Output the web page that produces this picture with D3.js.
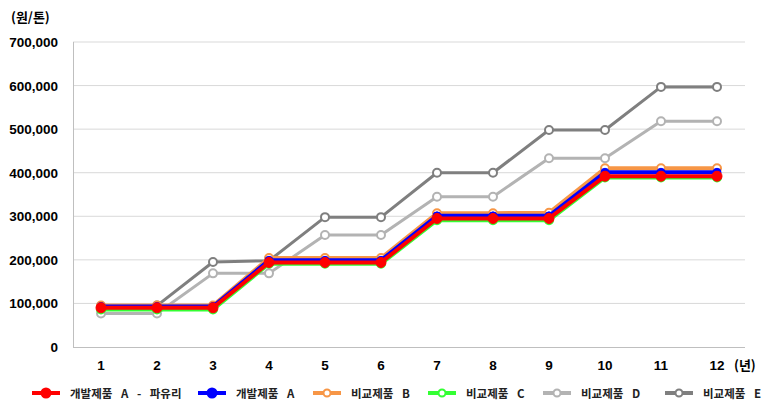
<!DOCTYPE html>
<html><head><meta charset="utf-8">
<script src="https://cdn.jsdelivr.net/npm/d3@7"></script>
<style>body{margin:0;background:#fff}svg{display:block}</style>
</head><body><svg id="c" width="768" height="413"></svg>
<script>
const years = [1,2,3,4,5,6,7,8,9,10,11,12];
const yTicks = [0,100000,200000,300000,400000,500000,600000,700000];
const seriesNames = ["개발제품 A - 파유리","개발제품 A","비교제품 B","비교제품 C","비교제품 D","비교제품 E"];
const valsE = [93000,95000,195000,198000,298000,298000,400000,400000,498000,498000,597000,597000];
const valsD = [77000,77000,169000,169000,257000,257000,345000,345000,433000,433000,518000,518000];
const valsB = [95000,95000,95000,204000,204000,204000,307000,307000,308000,410000,410000,410000];
const valsC = [86000,86000,86000,191000,191000,191000,291000,291000,291000,389000,389000,389000];
const valsA = [93000,93000,93000,199000,199000,199000,301000,301000,301000,401000,401000,401000];
const valsR = [90000,90000,90000,194000,194000,194000,295000,295000,295000,392000,392000,392000];
const colors = ["#ff0000","#0000ff","#f79646","#33ff33","#b3b3b3","#7f7f7f"];

const svg = d3.select("#c");
const x = d3.scalePoint().domain(years).range([73,745]).padding(0.5);
const y = d3.scaleLinear().domain([0,700000]).range([347,42]);

svg.append("g").selectAll("line").data(yTicks.slice(1)).join("line")
  .attr("x1",73).attr("x2",745).attr("y1",d=>y(d)).attr("y2",d=>y(d))
  .attr("stroke","#d9d9d9").attr("stroke-width",1);
svg.append("line").attr("x1",73.5).attr("x2",73.5).attr("y1",42).attr("y2",347).attr("stroke","#bfbfbf");
svg.append("line").attr("x1",73).attr("x2",745).attr("y1",347.5).attr("y2",347.5).attr("stroke","#bfbfbf");

const font = "Arial, 'Liberation Sans', 'Noto Sans CJK KR', sans-serif";
svg.append("g").selectAll("text").data(yTicks).join("text")
  .attr("x",58).attr("y",d=>y(d)+5).attr("text-anchor","end")
  .attr("font-family",font).attr("font-size",13.5).attr("font-weight","bold").attr("fill","#000")
  .text(d=>d3.format(",")(d));
svg.append("g").selectAll("text").data(years).join("text")
  .attr("x",d=>x(d)).attr("y",370).attr("text-anchor","middle")
  .attr("font-family",font).attr("font-size",13.5).attr("font-weight","bold").attr("fill","#000")
  .text(d=>d);
svg.append("text").attr("x",734).attr("y",370).attr("font-family","'Noto Sans CJK KR', sans-serif")
  .attr("font-size",13).attr("font-weight","bold").text("(년)");
svg.append("text").attr("x",11).attr("y",22).attr("font-family","'Noto Sans CJK KR', sans-serif")
  .attr("font-size",13).attr("font-weight","bold").text("(원/톤)");

const data = [
  {v:valsE, c:colors[5], w:3, filled:false, r:4},
  {v:valsD, c:colors[4], w:3, filled:false, r:4},
  {v:valsB, c:colors[2], w:4, filled:false, r:4},
  {v:valsC, c:colors[3], w:4, filled:false, r:4},
  {v:valsA, c:colors[1], w:4, filled:true, r:4},
  {v:valsR, c:colors[0], w:4, filled:true, r:5},
];
const line = d3.line().x((d,i)=>x(years[i])).y(d=>y(d));
data.forEach(s=>{
  const g = svg.append("g");
  g.append("path").attr("d",line(s.v)).attr("fill","none").attr("stroke",s.c).attr("stroke-width",s.w).attr("stroke-linejoin","round");
  g.selectAll("circle").data(s.v).join("circle")
    .attr("cx",(d,i)=>x(years[i])).attr("cy",d=>y(d)).attr("r",s.r)
    .attr("fill",s.filled?s.c:"#fff").attr("stroke",s.c).attr("stroke-width",s.filled?1:2);
});

const legX = [32,198,313,428,543,665];
const filled = [true,true,false,false,false,false];
const lg = svg.append("g");
seriesNames.forEach((nm,k)=>{
  const gx = legX[k], gy = 393;
  lg.append("line").attr("x1",gx).attr("x2",gx+28).attr("y1",gy).attr("y2",gy).attr("stroke",colors[k]).attr("stroke-width",4);
  lg.append("circle").attr("cx",gx+14).attr("cy",gy).attr("r",filled[k]?4.5:3.5)
    .attr("fill",filled[k]?colors[k]:"#fff").attr("stroke",colors[k]).attr("stroke-width",2);
  lg.append("text").attr("x",gx+38).attr("y",gy+5).attr("font-family","'Noto Sans CJK KR', sans-serif")
    .attr("font-size",11.5).attr("font-weight","bold").attr("fill","#222")
    .attr("word-spacing",6).style("word-spacing","6px").text(nm);
});
</script></body></html>
